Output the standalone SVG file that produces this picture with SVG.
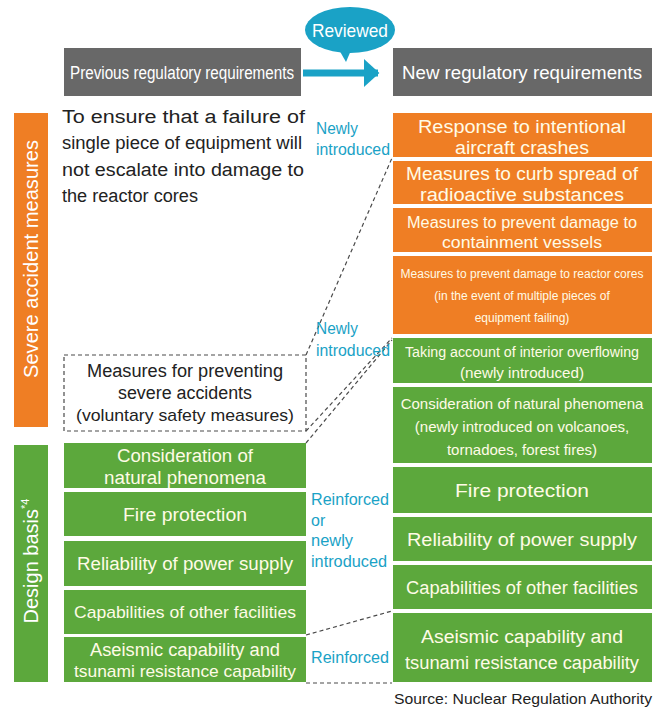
<svg xmlns="http://www.w3.org/2000/svg" width="656" height="711" viewBox="0 0 656 711">
<style>
text{font-family:"Liberation Sans","Noto Sans",sans-serif}
.hdr{fill:#686868}
.hdrt{fill:#ffffff;font-size:18px;text-anchor:middle}
.or{fill:#ef7e24}
.gr{fill:#5ca83c}
.bt{fill:#fffbe6;text-anchor:middle;font-size:18px}
.sm{font-size:15px}
.xs{font-size:12px}
.lbl{fill:#1aa2c6;font-size:16px}
.dash{fill:none;stroke:#4a4a4a;stroke-width:1.2;stroke-dasharray:4 3}
.side{fill:#ffffff;font-size:20px;text-anchor:middle}
.plain{fill:#222222;font-size:18px}
</style>
<defs>
<marker id="ah" markerWidth="4" markerHeight="4" refX="2" refY="2" orient="auto" markerUnits="strokeWidth">
<path d="M0,0 L2.2,2 L0,4 Z" fill="#1aa2c6"/>
</marker>
</defs>
<rect width="656" height="711" fill="#ffffff"/>

<g id="reviewed">
<path d="M338,48 L346,62 L352,48 Z" fill="#1aa2c6"/>
<ellipse cx="350" cy="30" rx="45" ry="23" fill="#1aa2c6"/>
<text x="350" y="37" fill="#ffffff" font-size="19" text-anchor="middle" textLength="76" lengthAdjust="spacingAndGlyphs">Reviewed</text>
</g>

<g id="hdr-prev">
<rect class="hdr" x="64" y="48" width="237" height="48"/>
<text class="hdrt" x="182" y="79" textLength="224" lengthAdjust="spacingAndGlyphs">Previous regulatory requirements</text>
</g>
<g id="hdr-new">
<rect class="hdr" x="393" y="48" width="259" height="48"/>
<text class="hdrt" x="522" y="79" textLength="240" lengthAdjust="spacingAndGlyphs">New regulatory requirements</text>
</g>

<g id="side-severe">
<rect class="or" x="14" y="113" width="34" height="314"/>
<text class="side" transform="translate(38,259) rotate(-90)" textLength="238" lengthAdjust="spacingAndGlyphs">Severe accident measures</text>
</g>
<g id="side-design">
<rect class="gr" x="14" y="445" width="34" height="237"/>
<text class="side" transform="translate(38,561) rotate(-90)">Design basis<tspan font-size="11" dy="-9">*4</tspan></text>
</g>

<g id="prev-text">
<text class="plain" x="62" y="123" textLength="243" lengthAdjust="spacingAndGlyphs">To ensure that a failure of</text>
<text class="plain" x="62" y="149" textLength="240" lengthAdjust="spacingAndGlyphs">single piece of equipment will</text>
<text class="plain" x="62" y="176" textLength="242" lengthAdjust="spacingAndGlyphs">not escalate into damage to</text>
<text class="plain" x="62" y="202" textLength="136" lengthAdjust="spacingAndGlyphs">the reactor cores</text>
</g>

<g id="prev-severe">
<rect class="dash" x="64" y="355" width="242" height="76"/>
<text class="plain" x="185" y="377" text-anchor="middle" textLength="196" lengthAdjust="spacingAndGlyphs">Measures for preventing</text>
<text class="plain" x="185" y="399" text-anchor="middle" textLength="134" lengthAdjust="spacingAndGlyphs">severe accidents</text>
<text class="plain" x="185" y="421" text-anchor="middle" style="font-size:17px" textLength="218" lengthAdjust="spacingAndGlyphs">(voluntary safety measures)</text>
</g>

<g id="prev-natural">
<rect class="gr" x="64" y="443" width="242" height="45"/>
<text class="bt" x="185" y="462" textLength="136" lengthAdjust="spacingAndGlyphs">Consideration of</text>
<text class="bt" x="185" y="484" textLength="162" lengthAdjust="spacingAndGlyphs">natural phenomena</text>
</g>
<g id="prev-fire">
<rect class="gr" x="64" y="492" width="242" height="44"/>
<text class="bt" x="185" y="521" textLength="124" lengthAdjust="spacingAndGlyphs">Fire protection</text>
</g>
<g id="prev-power">
<rect class="gr" x="64" y="541" width="242" height="45"/>
<text class="bt" x="185" y="570" textLength="216" lengthAdjust="spacingAndGlyphs">Reliability of power supply</text>
</g>
<g id="prev-other">
<rect class="gr" x="64" y="590" width="242" height="44"/>
<text class="bt" x="185" y="618" style="font-size:17px" textLength="222" lengthAdjust="spacingAndGlyphs">Capabilities of other facilities</text>
</g>
<g id="prev-aseismic">
<rect class="gr" x="64" y="637" width="242" height="45"/>
<text class="bt" x="185" y="656" textLength="190" lengthAdjust="spacingAndGlyphs">Aseismic capability and</text>
<text class="bt" x="185" y="677" style="font-size:17px" textLength="222" lengthAdjust="spacingAndGlyphs">tsunami resistance capability</text>
</g>

<g id="new-aircraft">
<rect class="or" x="393" y="113" width="259" height="44"/>
<text class="bt" x="522" y="133" textLength="208" lengthAdjust="spacingAndGlyphs">Response to intentional</text>
<text class="bt" x="522" y="154" textLength="134" lengthAdjust="spacingAndGlyphs">aircraft crashes</text>
</g>
<g id="new-radioactive">
<rect class="or" x="393" y="161" width="259" height="43"/>
<text class="bt" x="522" y="180" textLength="232" lengthAdjust="spacingAndGlyphs">Measures to curb spread of</text>
<text class="bt" x="522" y="201" textLength="204" lengthAdjust="spacingAndGlyphs">radioactive substances</text>
</g>
<g id="new-containment">
<rect class="or" x="393" y="208" width="259" height="44"/>
<text class="bt" x="522" y="228" style="font-size:16px" textLength="230" lengthAdjust="spacingAndGlyphs">Measures to prevent damage to</text>
<text class="bt" x="522" y="248" style="font-size:16px" textLength="160" lengthAdjust="spacingAndGlyphs">containment vessels</text>
</g>
<g id="new-cores">
<rect class="or" x="393" y="256" width="259" height="78"/>
<text class="bt xs" x="522" y="278">Measures to prevent damage to reactor cores</text>
<text class="bt xs" x="522" y="300">(in the event of multiple pieces of</text>
<text class="bt xs" x="522" y="322">equipment failing)</text>
</g>
<g id="new-overflow">
<rect class="gr" x="393" y="338" width="259" height="45"/>
<text class="bt" x="522" y="357" style="font-size:14px" textLength="234" lengthAdjust="spacingAndGlyphs">Taking account of interior overflowing</text>
<text class="bt" x="522" y="378" style="font-size:14px" textLength="124" lengthAdjust="spacingAndGlyphs">(newly introduced)</text>
</g>
<g id="new-natural">
<rect class="gr" x="393" y="387" width="259" height="76"/>
<text class="bt sm" x="522" y="409">Consideration of natural phenomena</text>
<text class="bt sm" x="522" y="432">(newly introduced on volcanoes,</text>
<text class="bt sm" x="522" y="455">tornadoes, forest fires)</text>
</g>
<g id="new-fire">
<rect class="gr" x="393" y="467" width="259" height="46"/>
<text class="bt" x="522" y="497" textLength="134" lengthAdjust="spacingAndGlyphs">Fire protection</text>
</g>
<g id="new-power">
<rect class="gr" x="393" y="517" width="259" height="44"/>
<text class="bt" x="522" y="546" textLength="230" lengthAdjust="spacingAndGlyphs">Reliability of power supply</text>
</g>
<g id="new-other">
<rect class="gr" x="393" y="565" width="259" height="44"/>
<text class="bt" x="522" y="594" textLength="232" lengthAdjust="spacingAndGlyphs">Capabilities of other facilities</text>
</g>
<g id="new-aseismic">
<rect class="gr" x="393" y="613" width="259" height="69"/>
<text class="bt" x="522" y="643" textLength="202" lengthAdjust="spacingAndGlyphs">Aseismic capability and</text>
<text class="bt" x="522" y="669" textLength="234" lengthAdjust="spacingAndGlyphs">tsunami resistance capability</text>
</g>

<g id="connectors">
<line x1="303" y1="73" x2="378" y2="73" stroke="#1aa2c6" stroke-width="7" marker-end="url(#ah)"/>
<line class="dash" x1="306" y1="355" x2="392" y2="158"/>
<line class="dash" x1="306" y1="431" x2="392" y2="338"/>
<line class="dash" x1="306" y1="443" x2="392" y2="340"/>
<line class="dash" x1="306" y1="635" x2="392" y2="611"/>
<line class="dash" x1="306" y1="683" x2="392" y2="683"/>
</g>

<g id="labels">
<text class="lbl" x="316" y="134" textLength="42" lengthAdjust="spacingAndGlyphs">Newly</text>
<text class="lbl" x="316" y="155" textLength="74" lengthAdjust="spacingAndGlyphs">introduced</text>
<text class="lbl" x="316" y="334" textLength="42" lengthAdjust="spacingAndGlyphs">Newly</text>
<text class="lbl" x="316" y="356" textLength="74" lengthAdjust="spacingAndGlyphs">introduced</text>
<text class="lbl" x="311" y="505" textLength="78" lengthAdjust="spacingAndGlyphs">Reinforced</text>
<text class="lbl" x="311" y="526">or</text>
<text class="lbl" x="311" y="546" textLength="42" lengthAdjust="spacingAndGlyphs">newly</text>
<text class="lbl" x="311" y="567" textLength="76" lengthAdjust="spacingAndGlyphs">introduced</text>
<text class="lbl" x="311" y="663" textLength="78" lengthAdjust="spacingAndGlyphs">Reinforced</text>
</g>

<text x="652" y="704" fill="#222222" font-size="14" text-anchor="end" textLength="258" lengthAdjust="spacingAndGlyphs">Source: Nuclear Regulation Authority</text>
</svg>
